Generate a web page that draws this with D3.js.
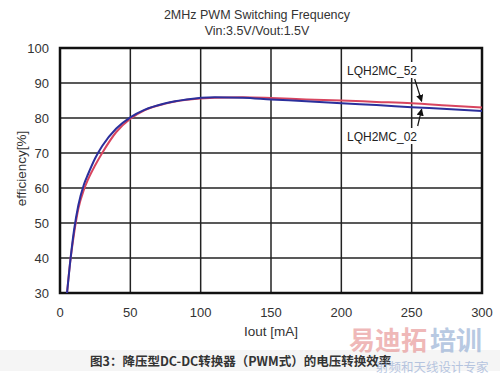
<!DOCTYPE html>
<html lang="zh">
<head>
	<meta charset="utf-8">
	<title>Efficiency</title>
	<script src="https://d3js.org/d3.v7.min.js"></script>
	<style>
		body { margin: 0; background: #fff; }
		svg { display: block; font-family: "Liberation Sans", Arial, sans-serif; }
	</style>
</head>
<body>
	<div id="chart"></div>
	<script>
		// Data
		const iout = [5, 7, 10, 13, 17, 20, 25, 30, 40, 50, 60, 75, 90, 110, 130, 150, 175, 200, 225, 250, 275, 300];
		const eff02 = [30, 38, 48, 55, 61, 64, 68.5, 72, 77, 80.2, 82.3, 84.2, 85.3, 85.9, 85.8, 85.3, 84.8, 84.2, 83.7, 83.1, 82.6, 82.0];
		const eff52 = [30, 38, 47, 54, 59.5, 62.5, 66.5, 70, 76, 79.8, 82.2, 84.1, 85.2, 85.8, 85.9, 85.7, 85.3, 85.0, 84.6, 84.2, 83.6, 83.0];
		const xTicks = [0, 50, 100, 150, 200, 250, 300];
		const yTicks = [30, 40, 50, 60, 70, 80, 90, 100];
		const titleLines = ["2MHz PWM Switching Frequency", "Vin:3.5V/Vout:1.5V"];
		const caption = "图3：降压型DC-DC转换器（PWM式）的电压转换效率";

		const width = 500;
		const height = 376;
		const margin = { top: 48, right: 18, bottom: 83, left: 60 };

		const svg = d3.select("#chart")
			.append("svg")
			.attr("width", width)
			.attr("height", height);

		const x = d3.scaleLinear().domain([0, 300]).range([margin.left, width - margin.right]);
		const y = d3.scaleLinear().domain([30, 100]).range([height - margin.bottom, margin.top]);

		// Title
		svg.selectAll(".title")
			.data(titleLines)
			.join("text")
			.attr("x", (x(0) + x(300)) / 2 - 14)
			.attr("y", (d, i) => 19 + i * 16)
			.attr("text-anchor", "middle")
			.style("font-size", "12.5px")
			.style("fill", "#333")
			.text(d => d);

		// Grid
		svg.selectAll(".hgrid")
			.data(yTicks)
			.join("line")
			.attr("x1", x(0)).attr("x2", x(300))
			.attr("y1", d => y(d)).attr("y2", d => y(d))
			.attr("stroke", "#222").attr("stroke-width", 1.5);

		svg.selectAll(".vgrid")
			.data(xTicks)
			.join("line")
			.attr("x1", d => x(d)).attr("x2", d => x(d))
			.attr("y1", y(30)).attr("y2", y(100))
			.attr("stroke", "#222").attr("stroke-width", 1.5);

		svg.append("rect")
			.attr("x", x(0)).attr("y", y(100))
			.attr("width", x(300) - x(0)).attr("height", y(30) - y(100))
			.attr("fill", "none").attr("stroke", "#111").attr("stroke-width", 2.5);

		// Tick labels
		svg.selectAll(".ylab")
			.data(yTicks)
			.join("text")
			.attr("x", x(0) - 11)
			.attr("y", d => y(d) + 5)
			.attr("text-anchor", "end")
			.style("font-size", "13px")
			.style("fill", "#333")
			.text(d => d);

		svg.selectAll(".xlab")
			.data(xTicks)
			.join("text")
			.attr("x", d => x(d))
			.attr("y", y(30) + 24)
			.attr("text-anchor", "middle")
			.style("font-size", "13px")
			.style("fill", "#333")
			.text(d => d);

		svg.append("text")
			.attr("x", x(150))
			.attr("y", y(30) + 43)
			.attr("text-anchor", "middle")
			.style("font-size", "13.5px")
			.style("fill", "#333")
			.text("Iout [mA]");

		svg.append("text")
			.attr("transform", `translate(26,${(y(30) + y(100)) / 2 - 2}) rotate(-90)`)
			.attr("text-anchor", "middle")
			.style("font-size", "13.5px")
			.style("fill", "#333")
			.text("efficiency[%]");

		// Curves
		const line = d3.line()
			.x((d, i) => x(iout[i]))
			.y(d => y(d))
			.curve(d3.curveMonotoneX);

		svg.append("path")
			.attr("d", line(eff52))
			.attr("fill", "none")
			.attr("stroke", "#d8455f")
			.attr("stroke-width", 2);

		svg.append("path")
			.attr("d", line(eff02))
			.attr("fill", "none")
			.attr("stroke", "#2b2f9c")
			.attr("stroke-width", 2);

		// Labels with arrows
		const labels = [
			{ text: "LQH2MC_52", ly: 70 },
			{ text: "LQH2MC_02", ly: 136 }
		];
		labels.forEach(l => {
			svg.append("rect")
				.attr("x", 345).attr("y", l.ly - 8)
				.attr("width", 71).attr("height", 16)
				.attr("fill", "#fff");
			svg.append("text")
				.attr("x", 347).attr("y", l.ly + 5)
				.style("font-size", "12px")
				.style("fill", "#222")
				.text(l.text);
		});

		svg.append("defs").append("marker")
			.attr("id", "arr")
			.attr("viewBox", "0 0 10 10")
			.attr("refX", 9).attr("refY", 5)
			.attr("markerWidth", 6).attr("markerHeight", 6)
			.attr("orient", "auto")
			.append("path")
			.attr("d", "M0,0L10,5L0,10z")
			.attr("fill", "#111");

		svg.append("line")
			.attr("x1", x(250) + 3).attr("y1", 79)
			.attr("x2", x(250) + 10).attr("y2", y(84.2) - 2)
			.attr("stroke", "#111").attr("stroke-width", 1.2)
			.attr("marker-end", "url(#arr)");

		svg.append("line")
			.attr("x1", x(250) + 6).attr("y1", 126)
			.attr("x2", x(250) + 10).attr("y2", y(83.1) + 2)
			.attr("stroke", "#111").attr("stroke-width", 1.2)
			.attr("marker-end", "url(#arr)");

		// Caption band
		svg.append("rect")
			.attr("x", 0).attr("y", 350)
			.attr("width", width).attr("height", 21)
			.attr("fill", "#f5f5f5");

		svg.append("text")
			.attr("x", 90)
			.attr("y", 366)
			.style("font-family", "'Noto Sans CJK SC', sans-serif")
			.style("font-size", "12.5px")
			.style("font-weight", "bold")
			.style("fill", "#333")
			.text(caption);

		// Watermark
		svg.append("text")
			.attr("x", 349).attr("y", 350)
			.style("font-family", "'Noto Sans CJK SC', sans-serif")
			.style("font-size", "26px")
			.style("font-weight", "bold")
			.style("fill", "#e58a8a")
			.style("opacity", 0.6)
			.text("易迪拓");
		svg.append("text")
			.attr("x", 430).attr("y", 350)
			.style("font-family", "'Noto Sans CJK SC', sans-serif")
			.style("font-size", "26px")
			.style("font-weight", "bold")
			.style("fill", "#8aa6cf")
			.style("opacity", 0.6)
			.text("培训");
		svg.append("text")
			.attr("x", 376).attr("y", 372)
			.style("font-family", "'Noto Sans CJK SC', sans-serif")
			.style("font-size", "12.5px")
			.style("fill", "#9bb0d6")
			.style("opacity", 0.7)
			.text("射频和天线设计专家");
	</script>
</body>
</html>
